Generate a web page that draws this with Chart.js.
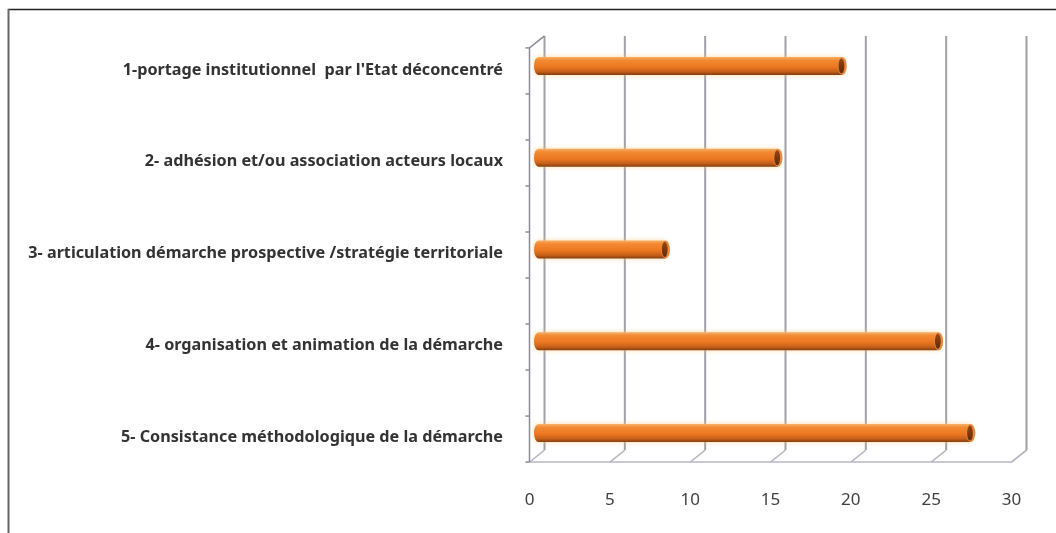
<!DOCTYPE html>
<html>
<head>
<meta charset="utf-8">
<script src="https://cdn.jsdelivr.net/npm/chart.js@4.4.1/dist/chart.umd.min.js"></script>
<style>
  html, body { margin: 0; padding: 0; background: #fff; }
  #wrap { width: 1056px; height: 533px; position: relative; }
</style>
</head>
<body>
<div id="wrap"><canvas id="graf"></canvas></div>
<script>
const categories = [
  "1-portage institutionnel  par l'Etat déconcentré",
  "2- adhésion et/ou association acteurs locaux",
  "3- articulation démarche prospective /stratégie territoriale",
  "4- organisation et animation de la démarche",
  "5- Consistance méthodologique de la démarche"
];
const values = [19, 15, 8, 25, 27];
const xTicks = [0, 5, 10, 15, 20, 25, 30];

// demi-profondeur du faux 3D
const DX = 7.5, DY = 6;

// cadre, murs et grille en perspective
const cadre3d = {
  id: 'cadre3d',
  beforeDraw(chart) {
    const c = chart.ctx;
    c.save();
    c.fillStyle = '#fff';
    c.fillRect(0, 0, chart.width, chart.height);
    c.strokeStyle = '#222';
    c.lineWidth = 1.5;
    c.beginPath(); c.moveTo(8, 9.5); c.lineTo(chart.width, 9.5); c.stroke();
    c.strokeStyle = '#666';
    c.lineWidth = 2;
    c.beginPath(); c.moveTo(8.5, 9); c.lineTo(8.5, chart.height); c.stroke();
    c.restore();
  },
  beforeDatasetsDraw(chart) {
    const c = chart.ctx;
    const x = chart.scales.x, y = chart.scales.y;
    const haut = y.getPixelForValue(0) - 24;
    const bas = y.getPixelForValue(categories.length - 1) + 23;
    c.save();
    // mur du fond
    c.strokeStyle = '#a0a0a8';
    c.lineWidth = 2;
    xTicks.forEach(v => {
      const bx = x.getPixelForValue(v) + DX;
      c.beginPath(); c.moveTo(bx, haut - DY); c.lineTo(bx, bas - DY); c.stroke();
    });
    // sol
    c.strokeStyle = '#b8b8c6';
    c.lineWidth = 1.5;
    xTicks.forEach(v => {
      const bx = x.getPixelForValue(v) + DX;
      c.beginPath(); c.moveTo(bx, bas - DY); c.lineTo(bx - 2 * DX, bas + DY); c.stroke();
    });
    const f0 = x.getPixelForValue(xTicks[0]) - DX;
    const f1 = x.getPixelForValue(xTicks[xTicks.length - 1]) - DX;
    c.beginPath(); c.moveTo(f0, bas + DY); c.lineTo(f1, bas + DY); c.lineTo(f1 + 2 * DX, bas - DY); c.stroke();
    // axe gauche
    c.strokeStyle = '#8c8c96';
    c.lineWidth = 1.5;
    c.beginPath();
    c.moveTo(f0 + 2 * DX, haut - DY); c.lineTo(f0, haut + DY); c.lineTo(f0, bas + DY);
    c.stroke();
    const n = 9;
    for (let k = 0; k <= n; k++) {
      const ty = haut + DY + (bas - haut) * k / n;
      c.beginPath(); c.moveTo(f0 - 4, ty); c.lineTo(f0, ty); c.stroke();
    }
    c.restore();
  },
  afterDatasetsDraw(chart) {
    const c = chart.ctx;
    const meta = chart.getDatasetMeta(0);
    meta.data.forEach(el => {
      const x0 = el.base + 1.5, x1 = el.x, yc = el.y, ry = el.height / 2, rx = 4.5;
      c.save();
      const g = c.createLinearGradient(0, yc - ry, 0, yc + ry);
      g.addColorStop(0, '#f8b06a');
      g.addColorStop(0.18, '#f28a34');
      g.addColorStop(0.55, '#ec7820');
      g.addColorStop(0.82, '#c55f1a');
      g.addColorStop(1, '#843c0e');
      c.shadowColor = 'rgba(250,200,120,0.7)';
      c.shadowBlur = 5;
      c.fillStyle = g;
      c.beginPath();
      c.moveTo(x0, yc - ry);
      c.lineTo(x1, yc - ry);
      c.lineTo(x1, yc + ry);
      c.lineTo(x0, yc + ry);
      c.ellipse(x0, yc, rx, ry, 0, Math.PI / 2, Math.PI * 1.5);
      c.closePath();
      c.fill();
      c.shadowBlur = 0;
      // face d'extremite
      c.fillStyle = '#e98a3e';
      c.beginPath(); c.ellipse(x1, yc, rx, ry, 0, 0, Math.PI * 2); c.fill();
      const g2 = c.createLinearGradient(0, yc - ry, 0, yc + ry);
      g2.addColorStop(0, '#9a4812');
      g2.addColorStop(1, '#5e2806');
      c.fillStyle = g2;
      c.beginPath(); c.ellipse(x1 - 0.8, yc, rx - 1.6, ry - 1.5, 0, 0, Math.PI * 2); c.fill();
      c.restore();
    });
  }
};

new Chart(document.getElementById('graf'), {
  type: 'bar',
  data: {
    labels: categories,
    datasets: [{
      data: values,
      backgroundColor: 'rgba(0,0,0,0)',
      borderWidth: 0,
      barThickness: 18
    }]
  },
  plugins: [cadre3d],
  options: {
    indexAxis: 'y',
    responsive: true,
    maintainAspectRatio: false,
    animation: false,
    layout: { padding: { top: 20, right: 37, bottom: 0, left: 0 } },
    plugins: { legend: { display: false }, tooltip: { enabled: false } },
    scales: {
      x: {
        type: 'linear',
        min: 0,
        max: 30,
        afterBuildTicks: s => { s.ticks = xTicks.map(v => ({ value: v })); },
        afterFit: s => { s.height = 54; },
        grid: { display: false, drawTicks: false },
        border: { display: false },
        ticks: {
          padding: 11,
          labelOffset: -DX,
          color: '#404040',
          font: { family: 'Noto Sans', size: 17 }
        }
      },
      y: {
        type: 'category',
        afterFit: s => { s.width = 537; },
        grid: { display: false, drawTicks: true, tickLength: 34 },
        border: { display: false },
        ticks: {
          padding: 0,
          labelOffset: 4,
          color: '#333',
          font: { family: 'Noto Sans', size: 16.2, weight: 'bold' }
        }
      }
    }
  }
});
</script>
</body>
</html>
